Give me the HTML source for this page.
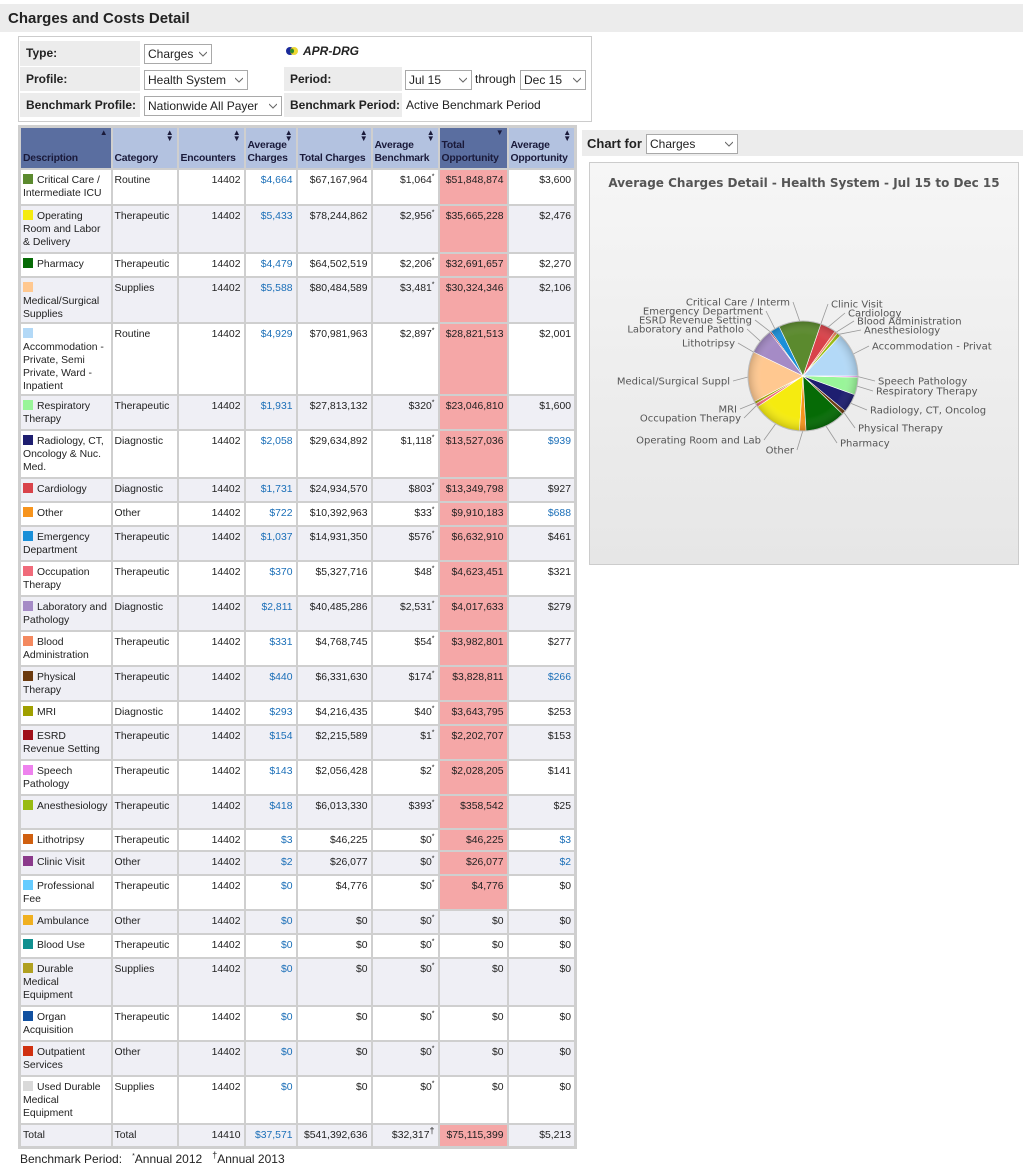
<!DOCTYPE html>
<html><head><meta charset="utf-8">
<style>
body{margin:0;width:1023px;height:1168px;background:#fff;font-family:"Liberation Sans",sans-serif;position:relative;overflow:hidden;color:#222}
.abs{position:absolute}
.lbl{position:absolute;background:#ececec;font-weight:bold;font-size:12px;line-height:24px;padding-left:6px;box-sizing:border-box}
.sel{position:absolute;background:#fff;border:1px solid #a9a9a9;font-size:12px;line-height:18px;height:20px;box-sizing:border-box;padding-left:3px}
.sel svg{position:absolute;right:4px;top:6px}
table{border-collapse:collapse;table-layout:fixed;font-size:10.4px}
td,th{border:2px solid #cfcfcf;vertical-align:top;padding:4px 1px 0 2px;line-height:13px;overflow:hidden}
th{vertical-align:bottom;padding-bottom:3px;text-align:left;font-weight:bold;color:#1a1a3a;position:relative;background:#b3c2e0;letter-spacing:-0.2px}
th.srt{background:#5a6ea0}
th .ar{position:absolute;right:3px;top:2px;font-size:8px;line-height:6px}
td.r{text-align:right;padding-right:3px}
.b{color:#1b6fb8}
.opp{background:#f5a7a7}
tr.alt td{background:#efeff5}
tr.alt td.opp{background:#f5a7a7}
.sw{display:inline-block;width:10px;height:10px;margin-right:4px;vertical-align:-1px}
sup{font-size:7px;line-height:0}
</style></head><body>
<div class="abs" style="left:0;top:4px;width:1023px;height:28px;background:#ececec"></div>
<div class="abs" style="left:8px;top:10px;font-size:15px;font-weight:bold">Charges and Costs Detail</div>
<div class="abs" style="left:18px;top:36px;width:574px;height:86px;border:1px solid #ccc;box-sizing:border-box"></div>
<div class="lbl" style="left:20px;top:41px;width:120px;height:25px">Type:</div>
<div class="lbl" style="left:20px;top:67px;width:120px;height:24px">Profile:</div>
<div class="lbl" style="left:20px;top:93px;width:120px;height:24px">Benchmark Profile:</div>
<div class="lbl" style="left:284px;top:67px;width:118px;height:24px">Period:</div>
<div class="lbl" style="left:284px;top:93px;width:118px;height:24px">Benchmark Period:</div>
<div class="sel" style="left:144px;top:44px;width:68px">Charges<svg width="8" height="6"><path d="M0 1 L4 5 L8 1" fill="none" stroke="#666"/></svg></div>
<div class="sel" style="left:144px;top:70px;width:104px">Health System<svg width="8" height="6"><path d="M0 1 L4 5 L8 1" fill="none" stroke="#666"/></svg></div>
<div class="sel" style="left:144px;top:96px;width:138px">Nationwide All Payer<svg width="8" height="6"><path d="M0 1 L4 5 L8 1" fill="none" stroke="#666"/></svg></div>
<div class="sel" style="left:405px;top:70px;width:67px">Jul 15<svg width="8" height="6"><path d="M0 1 L4 5 L8 1" fill="none" stroke="#666"/></svg></div>
<div class="abs" style="left:475px;top:72px;font-size:12px">through</div>
<div class="sel" style="left:520px;top:70px;width:66px">Dec 15<svg width="8" height="6"><path d="M0 1 L4 5 L8 1" fill="none" stroke="#666"/></svg></div>
<div class="abs" style="left:406px;top:98px;font-size:12px">Active Benchmark Period</div>
<svg class="abs" style="left:285px;top:46px" width="14" height="10"><circle cx="5" cy="5" r="4" fill="#1a2a9a"/><circle cx="9" cy="5" r="4" fill="#e8d000" opacity=".8"/><circle cx="7" cy="5" r="2" fill="#2a8a2a"/></svg>
<div class="abs" style="left:303px;top:44px;font-size:12px;font-weight:bold;font-style:italic">APR-DRG</div>

<table class="abs" id="tbl" style="left:18px;top:125px;width:556px;border:3px solid #cfcfcf">
<colgroup><col style="width:92px"><col style="width:66px"><col style="width:67px"><col style="width:52px"><col style="width:75px"><col style="width:67px"><col style="width:69px"><col style="width:68px"></colgroup>
<thead><tr style="height:42px">
<th class="srt">Description<span class="ar">▲</span></th>
<th>Category<span class="ar">▲<br>▼</span></th>
<th>Encounters<span class="ar">▲<br>▼</span></th>
<th>Average Charges<span class="ar">▲<br>▼</span></th>
<th>Total Charges<span class="ar">▲<br>▼</span></th>
<th>Average Benchmark<span class="ar">▲<br>▼</span></th>
<th class="srt">Total Opportunity<span class="ar">▼</span></th>
<th>Average Opportunity<span class="ar">▲<br>▼</span></th>
</tr></thead>
<tbody id="tb"></tbody></table>
<div class="abs" style="left:20px;top:1152px;font-size:12px">Benchmark Period: &nbsp;&nbsp;<sup>*</sup>Annual 2012 &nbsp;&nbsp;<sup style="font-size:9px">†</sup>Annual 2013</div>

<div class="abs" style="left:582px;top:130px;width:441px;height:26px;background:#ececec"></div>
<div class="abs" style="left:587px;top:136px;font-size:13px;font-weight:bold">Chart for</div>
<div class="sel" style="left:646px;top:134px;width:92px">Charges<svg width="8" height="6"><path d="M0 1 L4 5 L8 1" fill="none" stroke="#666"/></svg></div>
<div class="abs" style="left:589px;top:162px;width:430px;height:403px;background:linear-gradient(#f6f6f6,#e6e6e6);border:1px solid #ccc;box-sizing:border-box"></div>
<div class="abs" style="left:589px;top:176px;width:430px;text-align:center;font-family:'DejaVu Sans',sans-serif;font-weight:bold;font-size:12px;color:#555">Average Charges Detail - Health System - Jul 15 to Dec 15</div>
<svg class="abs" id="pie" style="left:589px;top:162px" width="430" height="403" font-family="DejaVu Sans, sans-serif" font-size="10">
<defs><radialGradient id="sh" cx="0.5" cy="0.5" r="0.5"><stop offset="0.75" stop-color="#fff" stop-opacity="0"/><stop offset="1" stop-color="#000" stop-opacity="0.18"/></radialGradient></defs>
</svg>

<script>
const names=["Critical Care / Intermediate ICU","Operating Room and Labor & Delivery","Pharmacy","Medical/Surgical Supplies","Accommodation - Private, Semi Private, Ward - Inpatient","Respiratory Therapy","Radiology, CT, Oncology & Nuc. Med.","Cardiology","Other","Emergency Department","Occupation Therapy","Laboratory and Pathology","Blood Administration","Physical Therapy","MRI","ESRD Revenue Setting","Speech Pathology","Anesthesiology","Lithotripsy","Clinic Visit","Professional Fee","Ambulance","Blood Use","Durable Medical Equipment","Organ Acquisition","Outpatient Services","Used Durable Medical Equipment"];
const colors=["#5b8a2e","#f5eb10","#066b06","#ffc890","#b3d9f7","#99f599","#1e1e70","#d9434a","#f7941d","#1a8fd8","#f06b7a","#a58bc6","#f4895f","#6b3a0f","#a0a000","#a0101a","#ee82ee","#99bb11","#d06010","#8b3a8b","#66ccff","#f0b020","#109090","#b0a020","#1050a0","#d03010","#d9d9d9"];
const categories=["Routine","Therapeutic","Therapeutic","Supplies","Routine","Therapeutic","Diagnostic","Diagnostic","Other","Therapeutic","Therapeutic","Diagnostic","Therapeutic","Therapeutic","Diagnostic","Therapeutic","Therapeutic","Therapeutic","Therapeutic","Other","Therapeutic","Other","Therapeutic","Supplies","Therapeutic","Other","Supplies"];
const avgCharges=[4664,5433,4479,5588,4929,1931,2058,1731,722,1037,370,2811,331,440,293,154,143,418,3,2,0,0,0,0,0,0,0];
const totalCharges=[67167964,78244862,64502519,80484589,70981963,27813132,29634892,24934570,10392963,14931350,5327716,40485286,4768745,6331630,4216435,2215589,2056428,6013330,46225,26077,4776,0,0,0,0,0,0];
const avgBenchmark=[1064,2956,2206,3481,2897,320,1118,803,33,576,48,2531,54,174,40,1,2,393,0,0,0,0,0,0,0,0,0];
const totalOpp=[51848874,35665228,32691657,30324346,28821513,23046810,13527036,13349798,9910183,6632910,4623451,4017633,3982801,3828811,3643795,2202707,2028205,358542,46225,26077,4776,0,0,0,0,0,0];
const avgOpp=[3600,2476,2270,2106,2001,1600,939,927,688,461,321,279,277,266,253,153,141,25,3,2,0,0,0,0,0,0,0];
const blueOpp=[6,8,13,18,19];
const rowHeights=[36,48,24,46,72,35,48,24,24,35,35,35,35,35,24,35,35,34,22,24,35,24,24,48,35,35,48];
const fmt=v=>"$"+v.toLocaleString("en-US");
const tb=document.getElementById("tb");
names.forEach((n,i)=>{
  const tr=document.createElement("tr");
  
  
  if(i%2)tr.className="alt";
  tr.style.height=rowHeights[i]+"px";
  const cells=[
    ['<span class="sw" style="background:'+colors[i]+'"></span>'+n.replace(/&/g,"&amp;"),""],
    [categories[i],""],
    ["14402","r"],
    [fmt(avgCharges[i]),"r b"],
    [fmt(totalCharges[i]),"r"],
    [fmt(avgBenchmark[i])+"<sup>*</sup>","r"],
    [fmt(totalOpp[i]),"r"+(totalOpp[i]>0?" opp":"")],
    [fmt(avgOpp[i]),"r"+(blueOpp.includes(i)?" b":"")]
  ];
  cells.forEach((c,j)=>{
    const td=document.createElement("td");
    
    
    td.className=c[1];td.innerHTML=c[0];tr.appendChild(td);
  });
  tb.appendChild(tr);
});
const tot=document.createElement("tr");


tot.className="alt";tot.style.height="24px";
tot.innerHTML='<td>Total</td><td>Total</td><td class="r">14410</td><td class="r b">$37,571</td><td class="r">$541,392,636</td><td class="r">$32,317<sup style="font-size:9px">†</sup></td><td class="r opp">$75,115,399</td><td class="r">$5,213</td>';
tb.appendChild(tot);

// Pie
const pieLabels={"Critical Care / Intermediate ICU":["Critical Care / Interm",201,140,"end"],"Emergency Department":["Emergency Department",174,149,"end"],"ESRD Revenue Setting":["ESRD Revenue Setting",163,158,"end"],"Laboratory and Pathology":["Laboratory and Patholo",155,167,"end"],"Lithotripsy":["Lithotripsy",146,181,"end"],"Medical/Surgical Supplies":["Medical/Surgical Suppl",141,219,"end"],"MRI":["MRI",148,247,"end"],"Occupation Therapy":["Occupation Therapy",152,256,"end"],"Operating Room and Labor & Delivery":["Operating Room and Lab",172,278,"end"],"Other":["Other",205,288,"end"],"Clinic Visit":["Clinic Visit",242,142,"start"],"Cardiology":["Cardiology",259,151,"start"],"Blood Administration":["Blood Administration",268,159,"start"],"Anesthesiology":["Anesthesiology",275,168,"start"],"Accommodation - Private, Semi Private, Ward - Inpatient":["Accommodation - Privat",283,184,"start"],"Speech Pathology":["Speech Pathology",289,219,"start"],"Respiratory Therapy":["Respiratory Therapy",287,229,"start"],"Radiology, CT, Oncology & Nuc. Med.":["Radiology, CT, Oncolog",281,248,"start"],"Professional Fee":["Professional Fee",276,257,"start"],"Physical Therapy":["Physical Therapy",269,266,"start"],"Pharmacy":["Pharmacy",251,281,"start"]};
const svg=document.getElementById("pie");
const NS="http://www.w3.org/2000/svg";
const cx=214,cy=214,R=55;
const order=names.map((n,i)=>i).filter(i=>avgCharges[i]>0).sort((a,b)=>names[a].localeCompare(names[b]));
const total=order.reduce((s,i)=>s+avgCharges[i],0);
let ang=0;
order.forEach(i=>{
  const sweep=avgCharges[i]/total*2*Math.PI;
  const a0=ang,a1=ang-sweep;ang=a1;
  const x0=cx+R*Math.cos(a0),y0=cy+R*Math.sin(a0),x1=cx+R*Math.cos(a1),y1=cy+R*Math.sin(a1);
  const p=document.createElementNS(NS,"path");
  
  
  p.setAttribute("d",`M${cx} ${cy} L${x0} ${y0} A${R} ${R} 0 ${sweep>Math.PI?1:0} 0 ${x1} ${y1} Z`);
  p.setAttribute("fill",colors[i]);p.setAttribute("stroke","#fff");p.setAttribute("stroke-width","0.6");
  svg.appendChild(p);
  const L=pieLabels[names[i]];
  if(L){
    const am=(a0+a1)/2;
    const ex=cx+R*Math.cos(am),ey=cy+R*Math.sin(am);
    const lx=L[3]=="end"?L[1]+3:L[1]-3;
    const ln=document.createElementNS(NS,"path");
    
    
    ln.setAttribute("d",`M${ex} ${ey} L${lx} ${L[2]}`);
    ln.setAttribute("stroke","#999");ln.setAttribute("fill","none");ln.setAttribute("stroke-width","0.8");
    svg.appendChild(ln);
    const t=document.createElementNS(NS,"text");
    
    
    t.setAttribute("x",L[1]);t.setAttribute("y",L[2]+3.5);t.setAttribute("text-anchor",L[3]);t.setAttribute("fill","#555");
    t.textContent=L[0];svg.appendChild(t);
  }
});
const sh=document.createElementNS(NS,"circle");


sh.setAttribute("cx",cx);sh.setAttribute("cy",cy);sh.setAttribute("r",R);sh.setAttribute("fill","url(#sh)");sh.setAttribute("stroke","#bbb");
svg.appendChild(sh);
</script>
</body></html>
